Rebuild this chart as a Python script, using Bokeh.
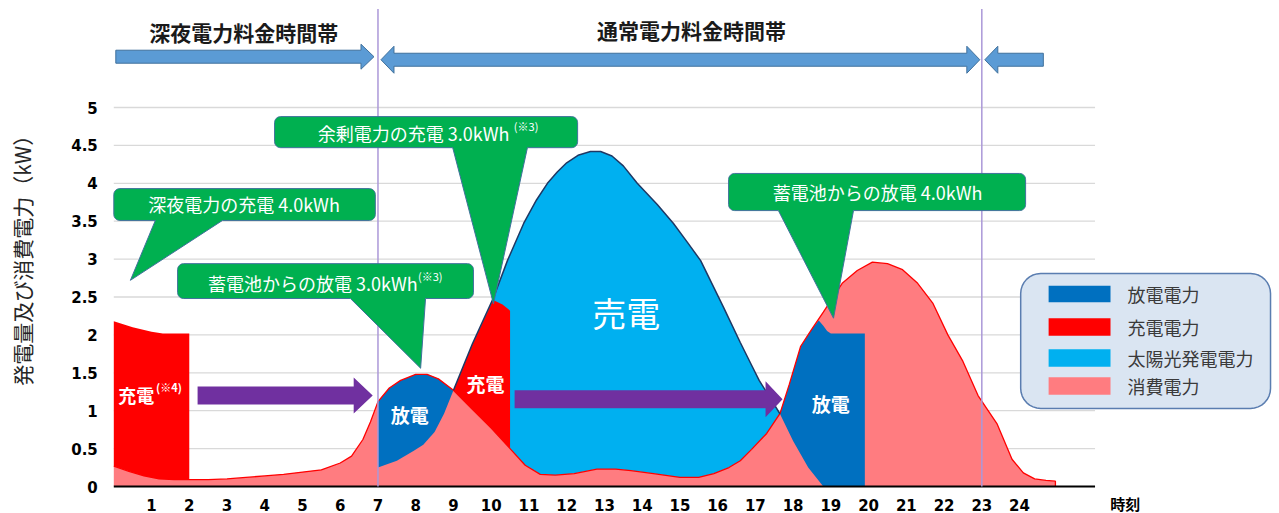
import numpy as np
from bokeh.plotting import figure
from bokeh.models import LinearAxis, FixedTicker, Range1d
from bokeh.core.properties import value
from bokeh.embed import file_html
from bokeh.resources import INLINE

# ---------------- data ----------------
hour_ticks = list(range(1, 25))
ytick_vals = [0, 0.5, 1, 1.5, 2, 2.5, 3, 3.5, 4, 4.5, 5]
ytick_labels = ["0", "0.5", "1", "1.5", "2", "2.5", "3", "3.5", "4", "4.5", "5"]

# consumption (消費電力) outline
cons_h = [0, 0.4, 0.8, 1.2, 1.6, 2, 2.5, 3, 3.5, 4, 4.5, 5, 5.5, 6, 6.3, 6.6, 6.8, 7,
          7.3, 7.6, 8, 8.3, 8.6, 9, 9.5, 10, 10.5, 10.9, 11.3, 11.7, 12.2, 12.8, 13.3,
          13.7, 14.3, 15, 15.5, 15.9, 16.3, 16.6, 16.9, 17.3, 17.65, 17.9, 18.2, 18.5,
          18.8, 19.3, 19.7, 20.1, 20.5, 20.9, 21.3, 21.7, 22.1, 22.5, 22.9, 23.4, 23.8,
          24.1, 24.4, 24.7, 24.95]
cons_v = [0.27, 0.2, 0.14, 0.1, 0.09, 0.09, 0.09, 0.1, 0.12, 0.14, 0.16, 0.19, 0.22, 0.31,
          0.4, 0.62, 0.85, 1.12, 1.3, 1.4, 1.48, 1.48, 1.42, 1.27, 1.02, 0.77, 0.5, 0.28,
          0.16, 0.15, 0.17, 0.23, 0.23, 0.21, 0.17, 0.12, 0.12, 0.17, 0.25, 0.34, 0.49,
          0.7, 0.96, 1.35, 1.85, 2.08, 2.3, 2.68, 2.85, 2.96, 2.94, 2.86, 2.68, 2.42, 2.0,
          1.65, 1.2, 0.83, 0.36, 0.18, 0.1, 0.08, 0.07]

# night charge (深夜電力の充電)
night_h = [0, 0.5, 1.0, 1.3, 2.0]
night_top = [2.18, 2.1, 2.04, 2.02, 2.02]

# morning discharge lower edge (蓄電池からの放電 3.0kWh)
morn_h = [7, 7.5, 7.95, 8.2, 8.5, 8.75, 9.0]
morn_low = [0.25, 0.34, 0.47, 0.55, 0.72, 0.96, 1.27]

# surplus charge top (余剰電力の充電)
surp_h = [9.0, 9.5, 10.05, 10.3, 10.5]
surp_top = [1.27, 1.87, 2.46, 2.4, 2.32]

# solar generation (太陽光発電電力)
solar_h = [9.0, 9.5, 10.06, 10.43, 10.86, 11.2, 11.49, 11.75, 12.0, 12.3, 12.63, 12.9,
           13.2, 13.5, 13.87, 14.4, 14.83, 15.2, 15.55, 16.16, 16.6, 16.9, 17.1, 17.65]
solar_v = [1.27, 1.88, 2.49, 2.98, 3.47, 3.78, 4.0, 4.15, 4.27, 4.37, 4.42, 4.42, 4.36,
           4.23, 4.0, 3.72, 3.47, 3.22, 2.98, 2.36, 1.9, 1.6, 1.4, 0.96]

# evening discharge (蓄電池からの放電 4.0kWh)
eve_top_h = [17.65, 17.9, 18.2, 18.5, 18.68, 18.8, 18.9, 19.0, 19.9]
eve_top = [0.96, 1.35, 1.85, 2.08, 2.19, 2.12, 2.05, 2.02, 2.02]
eve_low_h = [17.65, 18.0, 18.4, 18.8, 19.9]
eve_low = [0.96, 0.6, 0.25, 0.0, 0.0]

legend_labels = ["放電電力", "充電電力", "太陽光発電電力", "消費電力"]
band_labels = ["深夜電力料金時間帯", "通常電力料金時間帯"]
band_edges = [0, 7, 23]

# ---------------- colours ----------------
PINK, RED, DBLUE, LBLUE = "#ff7c80", "#ff0000", "#0070c0", "#00b0f0"
GREEN, PURPLE, ARROW_BLUE = "#00b050", "#7030a0", "#5b9bd5"
legend_colors = [DBLUE, RED, LBLUE, PINK]

# ---------------- layout ----------------
XPX, YPX = 37.74, 75.8          # px per hour, px per kW
X0S, Y0S = 113.3, 486.0         # canvas position of (0, 0)
W, H = 1279, 513

p = figure(width=W, height=H, output_backend="svg", toolbar_location=None,
           x_range=Range1d(-X0S / XPX, (W - X0S) / XPX),
           y_range=Range1d((Y0S - H) / YPX, Y0S / YPX),
           x_axis_type=None, y_axis_type=None, min_border=0, title=None)
p.outline_line_color = None
p.background_fill_color = "white"

JP = value("Noto Sans CJK JP")


def dx(px):
    return px / XPX


def dy(px):
    return px / YPX


def cons_seg(h0, h1):
    idx = [i for i, h in enumerate(cons_h) if h0 - 1e-9 <= h <= h1 + 1e-9]
    return [cons_h[i] for i in idx], [cons_v[i] for i in idx]


def band(up_h, up_v, lo_h, lo_v):
    return list(up_h) + list(lo_h)[::-1], list(up_v) + list(lo_v)[::-1]


def rrect(x0, x1, y0, y1, r, tail=None):
    rx, ry = dx(r), dy(r)
    xs, ys = [], []

    def arc(cx, cy, a0, a1):
        for t in np.linspace(a0, a1, 9):
            xs.append(cx + rx * np.cos(t))
            ys.append(cy + ry * np.sin(t))
    arc(x1 - rx, y1 - ry, 0, np.pi / 2)
    arc(x0 + rx, y1 - ry, np.pi / 2, np.pi)
    arc(x0 + rx, y0 + ry, np.pi, 1.5 * np.pi)
    if tail is not None:
        bl, br, tx, ty = tail
        xs += [bl, tx, br]
        ys += [y0, ty, y0]
    arc(x1 - rx, y0 + ry, 1.5 * np.pi, 2 * np.pi)
    return xs, ys


def harrow(xs_, xe, yc, shaft, head, hlen, left=False, right=True):
    sh, hh, hl = dy(shaft), dy(head), dx(hlen)
    px, py = [], []
    a = xs_ + hl if left else xs_
    b = xe - hl if right else xe
    if left:
        px += [xs_, a, a]
        py += [yc, yc + hh, yc + sh]
    else:
        px += [xs_]
        py += [yc + sh]
    if right:
        px += [b, b, xe, b, b]
        py += [yc + sh, yc + hh, yc, yc - hh, yc - sh]
    else:
        px += [xe, xe]
        py += [yc + sh, yc - sh]
    if left:
        px += [a, a]
        py += [yc - sh, yc - hh]
    else:
        px += [xs_]
        py += [yc - sh]
    return px, py


# ---------------- gridlines ----------------
grid_y = [v for v in ytick_vals if v > 0]
p.segment(x0=[0] * len(grid_y), x1=[26] * len(grid_y), y0=grid_y, y1=grid_y,
          line_color="#d9d9d9", line_width=1.3)

# ---------------- areas ----------------
p.patch([0] + cons_h + [cons_h[-1]], [0] + cons_v + [0], fill_color=PINK, line_color=None)

sh_, sv_ = cons_seg(9.0, 17.65)
bx, by = band(solar_h, solar_v, sh_, sv_)
p.patch(bx, by, fill_color=LBLUE, line_color=None)

sh_, sv_ = cons_seg(9.0, 10.5)
bx, by = band(surp_h, surp_top, sh_, sv_)
p.patch(bx, by, fill_color=RED, line_color=None)

sh_, sv_ = cons_seg(7.0, 9.0)
bx, by = band(morn_h, morn_low, sh_, sv_)
p.patch(bx, by, fill_color=DBLUE, line_color=None)

bx, by = band(eve_top_h, eve_top, eve_low_h, eve_low)
p.patch(bx, by, fill_color=DBLUE, line_color=None)

sh_, sv_ = cons_seg(0.0, 2.0)
bx, by = band(night_h, night_top, sh_, sv_)
p.patch(bx, by, fill_color=RED, line_color=None)

# outlines
p.line(cons_h + [cons_h[-1]], cons_v + [0], line_color=RED, line_width=1.3)
p.line(solar_h, solar_v, line_color="#1f3864", line_width=1.5)

# baseline
p.segment(x0=[0], x1=[26], y0=[0], y1=[0], line_color="black", line_width=2)

# tariff boundaries
p.segment(x0=band_edges[1:], x1=band_edges[1:], y0=[0, 0], y1=[6.3, 6.3],
          line_color="#ab98d8", line_width=1.5)

# ---------------- axes ----------------
xax = LinearAxis(ticker=FixedTicker(ticks=hour_ticks), fixed_location=0)
yax = LinearAxis(ticker=FixedTicker(ticks=ytick_vals), fixed_location=0,
                 major_label_overrides=dict(zip(ytick_vals, ytick_labels)))
for ax, so in ((xax, 6), (yax, 10)):
    ax.axis_line_color = None
    ax.major_tick_line_color = None
    ax.minor_tick_line_color = None
    ax.major_label_text_font = "DejaVu Sans"
    ax.major_label_text_font_style = "bold"
    ax.major_label_text_font_size = "15px"
    ax.major_label_text_color = "black"
    ax.major_label_standoff = so
p.add_layout(xax, "below")
p.add_layout(yax, "left")

# ---------------- tariff arrows ----------------
ax1 = harrow(band_edges[0] + dx(2), band_edges[1] - dx(4), 5.67, 6.5, 12.5, 13)
ax2 = harrow(band_edges[1] + dx(3), band_edges[2] - dx(2), 5.63, 6.5, 13.5, 13, left=True)
ax3 = harrow(band_edges[2] + dx(3), 24.63, 5.63, 6.5, 13.5, 13, left=True, right=False)
p.patches([ax1[0], ax2[0], ax3[0]], [ax1[1], ax2[1], ax3[1]],
          fill_color=ARROW_BLUE, line_color="#41719c", line_width=1)
p.text(x=[3.44, 15.31], y=[5.99, 6.02], text=band_labels, text_font=JP,
       text_font_size="21px", text_font_style="bold", text_color="#1a1a1a",
       text_align="center", text_baseline="middle")

# ---------------- purple arrows ----------------
pa1 = harrow(2.22, 6.86, 1.2, 9, 18, 19)
pa2 = harrow(10.62, 17.72, 1.15, 9, 18, 17)
p.patches([pa1[0], pa2[0]], [pa1[1], pa2[1]], fill_color=PURPLE, line_color=None)

# ---------------- area labels ----------------
p.text(x=[0.12], y=[1.21], text=["充電"], text_font=JP, text_font_size="18px",
       text_font_style="bold", text_color="white", text_align="left", text_baseline="middle")
p.text(x=[1.12], y=[1.31], text=["(※4)"], text_font=JP, text_font_size="11px",
       text_font_style="bold", text_color="white", text_align="left", text_baseline="middle")
p.text(x=[7.84, 9.85, 19.0], y=[0.95, 1.36, 1.09], text=["放電", "充電", "放電"],
       text_font=JP, text_font_size="19px", text_font_style="bold", text_color="white",
       text_align="center", text_baseline="middle")
p.text(x=[13.58], y=[2.3], text=["売電"], text_font=JP, text_font_size="34px",
       text_color="white", text_align="center", text_baseline="middle")

# ---------------- callouts ----------------
callouts = [
    ((0.0, 6.93, 3.51, 3.93), (1.10, 2.88, 0.44, 2.72)),
    ((4.26, 12.29, 4.47, 4.88), (8.98, 10.96, 10.06, 2.41)),
    ((1.69, 9.53, 2.48, 2.94), (6.27, 8.26, 8.13, 1.56)),
    ((16.29, 24.16, 3.64, 4.13), (17.61, 19.6, 19.07, 2.22)),
]
cxs, cys = [], []
for (x0, x1, y0, y1), tail in callouts:
    xs, ys = rrect(x0, x1, y0, y1, 6, tail)
    cxs.append(xs)
    cys.append(ys)
p.patches(cxs, cys, fill_color=GREEN, line_color="#41719c", line_width=1)

p.text(x=[3.45, 20.24], y=[3.73, 3.88], text=["深夜電力の充電 4.0kWh", "蓄電池からの放電 4.0kWh"],
       text_font=JP, text_font_size="18px", text_color="white",
       text_align="center", text_baseline="middle")
p.text(x=[10.59, 8.05], y=[4.66, 2.69], text=["余剰電力の充電  3.0kWh", "蓄電池からの放電 3.0kWh"],
       text_font=JP, text_font_size="18px", text_color="white",
       text_align="right", text_baseline="middle")
p.text(x=[10.6, 8.06], y=[4.75, 2.78], text=["(※3)", "(※3)"],
       text_font=JP, text_font_size="11px", text_color="white",
       text_align="left", text_baseline="middle")

# ---------------- legend ----------------
lx, ly = rrect(24.03, 30.65, 1.03, 2.81, 20)
p.patch(lx, ly, fill_color="#dae5f2", line_color="#5a7db0", line_width=1.5)
sw_top = [2.65, 2.22, 1.81, 1.44]
sw_bot = [2.43, 1.99, 1.58, 1.21]
p.quad(left=[24.77] * 4, right=[26.41] * 4, top=sw_top, bottom=sw_bot,
       fill_color=legend_colors, line_color=None)
p.text(x=[26.86] * 4, y=[(a + b) / 2 for a, b in zip(sw_top, sw_bot)], text=legend_labels,
       text_font=JP, text_font_size="18px", text_color="#3a3a3a",
       text_align="left", text_baseline="middle")

# ---------------- axis titles ----------------
p.text(x=[-2.42], y=[3.05], text=["発電量及び消費電力（kW）"], angle=np.pi / 2,
       text_font=JP, text_font_size="21px", text_color="#262626",
       text_align="center", text_baseline="middle")
p.text(x=[26.8], y=[-0.22], text=["時刻"], text_font=JP, text_font_size="15px",
       text_font_style="bold", text_color="black", text_align="center", text_baseline="middle")

open("out.html", "w").write(file_html(p, INLINE))
